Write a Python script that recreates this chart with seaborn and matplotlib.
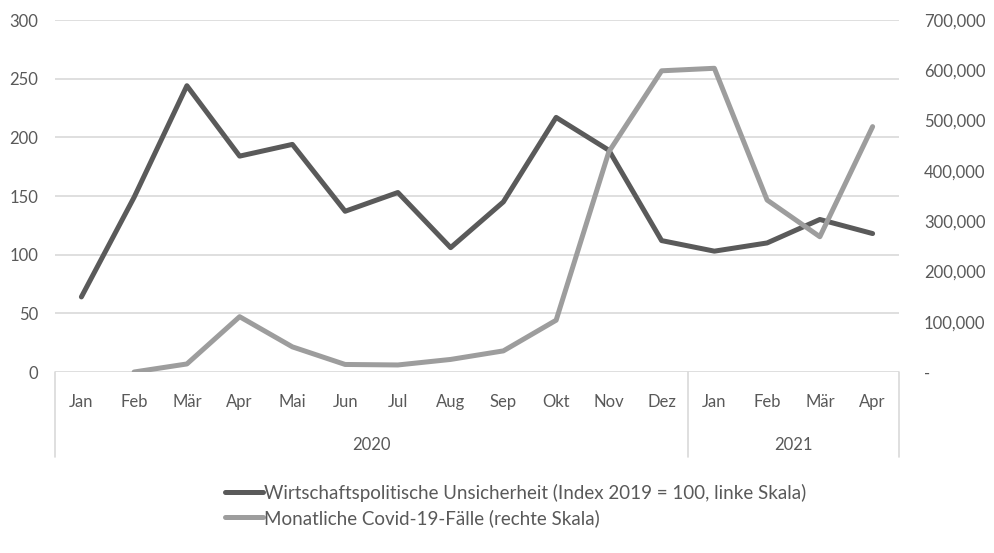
import matplotlib.pyplot as plt
import matplotlib.transforms as mtransforms
import numpy as np
import pandas as pd
import seaborn as sns

# Monate (Jan 2020 - Apr 2021)
months = ['Jan', 'Feb', 'Mär', 'Apr', 'Mai', 'Jun', 'Jul', 'Aug', 'Sep', 'Okt', 'Nov', 'Dez',
          'Jan', 'Feb', 'Mär', 'Apr']
years = ['2020', '2021']
year_counts = [12, 4]

# Wirtschaftspolitische Unsicherheit (Index 2019 = 100)
uncertainty = [64, 149, 244, 184, 194, 137, 153, 106, 145, 217, 189, 112, 103, 110, 130, 118]
# Monatliche Covid-19-Fälle (Jan 2020 fehlt)
covid = [np.nan, 0, 16000, 110000, 50000, 15000, 14000, 25000, 42000, 103000,
         438000, 599000, 604000, 342000, 269000, 488000]

label_unc = 'Wirtschaftspolitische Unsicherheit (Index 2019 = 100, linke Skala)'
label_cov = 'Monatliche Covid-19-Fälle (rechte Skala)'

df = pd.DataFrame({'pos': range(len(months)), 'month': months,
                   'unc': uncertainty, 'cov': covid})

sns.set_style('white')
plt.rcParams['font.family'] = ['Lato', 'DejaVu Sans']
text_col = '#595959'
grid_col = '#d9d9d9'
dark = '#5a5a5a'
light = '#9d9d9d'

fig = plt.figure(figsize=(9.95, 5.53), dpi=100)
ax = fig.add_axes([0.0553, 0.3273, 0.8482, 0.6365])
ax2 = ax.twinx()

sns.lineplot(data=df, x='pos', y='unc', ax=ax, color=dark, linewidth=3.6, label=label_unc, legend=False)
sns.lineplot(data=df.dropna(), x='pos', y='cov', ax=ax2, color=light, linewidth=3.6, label=label_cov, legend=False)

ax.set_ylim(0, 300)
ax.set_yticks(range(0, 301, 50))
ax2.set_ylim(0, 700000)
ax2.set_yticks(range(0, 700001, 100000))
ax2.yaxis.set_major_formatter(plt.FuncFormatter(lambda v, p: '-' if v == 0 else f'{v:,.0f}'))
ax.set_xlim(-0.5, len(months) - 0.5)
ax.set_xticks(df['pos'])
ax.set_xticklabels(months)

for a in (ax, ax2):
    for s in a.spines.values():
        s.set_visible(False)
    a.tick_params(length=0, labelsize=12, colors=text_col)
    a.set_xlabel('')
    a.set_ylabel('')
ax.tick_params(axis='x', pad=16)
ax.tick_params(axis='y', pad=12)
ax2.tick_params(axis='y', pad=18)
ax.yaxis.grid(True, color=grid_col, linewidth=1.2)
ax.set_axisbelow(True)

# Gruppierte Achse (Jahre)
trans = mtransforms.blended_transform_factory(ax.transData, ax.transAxes)
bounds = np.concatenate([[0], np.cumsum(year_counts)]) - 0.5
for b in bounds:
    ax.plot([b, b], [0, -0.242], color=grid_col, linewidth=1.2, transform=trans, clip_on=False)
for i, yr in enumerate(years):
    ax.text((bounds[i] + bounds[i + 1]) / 2, -0.208, yr, transform=trans, ha='center', va='center',
            fontsize=12, color=text_col)

handles = ax.get_lines()[:1] + ax2.get_lines()[:1]
fig.legend(handles, [label_unc, label_cov], loc='upper left', bbox_to_anchor=(0.219, 0.139),
           frameon=False, fontsize=13.5, labelcolor=text_col, handlelength=2.0, handletextpad=0.05,
           labelspacing=0.38, borderaxespad=0)

fig.savefig('out.png', dpi=100)
